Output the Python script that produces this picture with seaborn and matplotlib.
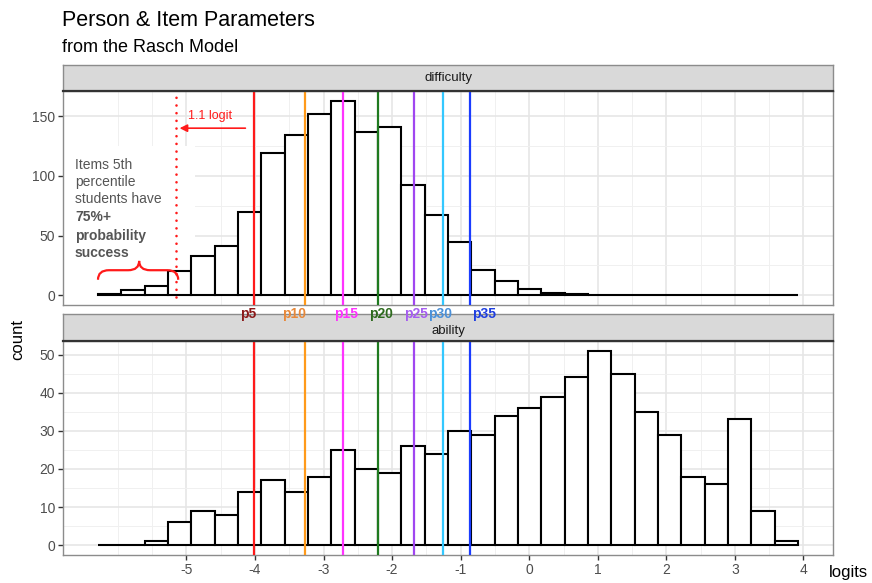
import numpy as np
import pandas as pd
import matplotlib
matplotlib.use("Agg")
import matplotlib.pyplot as plt
from matplotlib.path import Path
from matplotlib.patches import PathPatch, Rectangle
from matplotlib.transforms import blended_transform_factory
import seaborn as sns

# ---------------- data ----------------
bin_min = -6.29
bin_max = 3.92
n_bins = 30

difficulty_counts = [1, 4, 8, 20, 33, 41, 70, 119, 134, 152, 163, 137, 141, 92, 67,
                     45, 21, 12, 5, 2, 1, 0, 0, 0, 0, 0, 0, 0, 0, 0]
ability_counts = [0, 0, 1, 6, 9, 8, 14, 17, 14, 18, 25, 20, 19, 26, 24,
                  30, 29, 34, 36, 39, 44, 51, 45, 35, 29, 18, 16, 33, 9, 1]

panel_names = ["difficulty", "ability"]

percentile_labels = ["p5", "p10", "p15", "p20", "p25", "p30", "p35"]
percentile_values = [-4.02, -3.275, -2.72, -2.21, -1.686, -1.26, -0.862]
line_colors = ["#FF1A1A", "#FF9A1A", "#FF33FF", "#1F7A1F", "#A046F0", "#33C8FF", "#1A3CFF"]
label_colors = ["#8B1A1A", "#E8893A", "#FF33FF", "#2E6B1E", "#A65EF0", "#4A90D9", "#1F3FE0"]
label_offsets = [-0.08, -0.15, 0.05, 0.05, 0.03, -0.04, 0.21]

x_ticks = [-5, -4, -3, -2, -1, 0, 1, 2, 3, 4]
y_ticks_top = [0, 50, 100, 150]
y_ticks_bottom = [0, 10, 20, 30, 40, 50]

dotted_x = -5.15
shift_label = "1.1 logit"
note_lines = ["Items 5th", "percentile", "students have", "75%+", "probability", "success"]
note_bold = [False, False, False, True, True, True]

# ---------------- table ----------------
edges = np.linspace(bin_min, bin_max, n_bins + 1)
centers = (edges[:-1] + edges[1:]) / 2
df = pd.DataFrame({
    "panel": np.repeat(panel_names, n_bins),
    "center": np.tile(centers, 2),
    "count": difficulty_counts + ability_counts,
})

# ---------------- style ----------------
sns.set_style("white")
plt.rcParams["font.family"] = ["Liberation Sans", "DejaVu Sans"]
plt.rcParams["axes.unicode_minus"] = False

W, H = 872, 583
fig = plt.figure(figsize=(W / 100, H / 100), dpi=100)


def fx(px):
    return px / W


def fy(py):
    return 1 - py / H


left, right = 63, 833
ax_top = fig.add_axes([fx(left), fy(305), fx(right - left), (305 - 91) / H])
ax_bot = fig.add_axes([fx(left), fy(555), fx(right - left), (555 - 341) / H])
st_top = fig.add_axes([fx(left), fy(91), fx(right - left), 26 / H])
st_bot = fig.add_axes([fx(left), fy(341), fx(right - left), 27 / H])

rng = bin_max - bin_min
xlim = (bin_min - 0.05 * rng, bin_max + 0.05 * rng)

minor_x = [v for v in np.arange(-6.0, 4.01, 0.5) if v not in x_ticks]

for ax, name, yt in [(ax_top, "difficulty", y_ticks_top), (ax_bot, "ability", y_ticks_bottom)]:
    sub = df[df.panel == name]
    ymax = sub["count"].max()
    if name == "difficulty":
        # white background box behind the annotation
        ax.add_patch(Rectangle((xlim[0], -0.05 * ymax), -4.87 - xlim[0], 125 + 0.05 * ymax,
                               facecolor="white", edgecolor="none", zorder=0.9))
    sns.histplot(data=sub, x="center", weights="count", bins=edges.tolist(), ax=ax,
                 color="white", edgecolor="black", linewidth=1.5, alpha=1, zorder=1)
    ax.set_xlim(*xlim)
    ax.set_ylim(-0.05 * ymax, 1.05 * ymax)
    ax.set_xticks(x_ticks)
    ax.set_xticks(minor_x, minor=True)
    ax.set_yticks(yt)
    step = yt[1] - yt[0]
    ax.set_yticks(np.arange(step / 2, 1.05 * ymax, step), minor=True)
    ax.set_axisbelow(True)
    ax.grid(which="major", color="#E6E6E6", linewidth=1.2)
    ax.grid(which="minor", color="#F0F0F0", linewidth=0.7)
    ax.set_xlabel("")
    ax.set_ylabel("")
    for s in ax.spines.values():
        s.set_color("#8C8C8C")
        s.set_linewidth(1.0)
    ax.tick_params(which="major", length=3.5, width=1.0, color="#333333",
                   labelsize=10, labelcolor="#4D4D4D", pad=2, left=True, bottom=True)
    ax.tick_params(which="minor", length=0)
    for v, c in zip(percentile_values, line_colors):
        ax.axvline(v, color=c, linewidth=1.6, zorder=3)

ax_top.tick_params(axis="x", labelbottom=False, bottom=False)

# strips
for st, name in [(st_top, "difficulty"), (st_bot, "ability")]:
    st.set_facecolor("#D9D9D9")
    st.set_xticks([])
    st.set_yticks([])
    for s in st.spines.values():
        s.set_color("#8C8C8C")
        s.set_linewidth(1.0)
    st.spines["bottom"].set_color("#333333")
    st.spines["bottom"].set_linewidth(1.6)
    st.text(0.5, 0.5, name, transform=st.transAxes, ha="center", va="center",
            fontsize=9.5, color="#1A1A1A")
st_bot.texts[0].set_position((0.5, 0.38))

# percentile labels between panels (figure-level so they sit on top of the strip)
btr = blended_transform_factory(ax_top.transData, fig.transFigure)
for lab, v, c, off in zip(percentile_labels, percentile_values, label_colors, label_offsets):
    fig.text(v + off, fy(314), lab, transform=btr, ha="center", va="center",
             fontsize=10, fontweight="bold", color=c, zorder=5)

# dotted line, arrow and label
ax_top.plot([dotted_x, dotted_x], [-1.7, 175], linestyle=(0, (0.01, 2.9)), color="#FF1A1A",
            linewidth=1.9, clip_on=False, zorder=4, dash_capstyle="round")
ax_top.annotate("", xy=(dotted_x + 0.05, 140), xytext=(-4.14, 140),
                arrowprops=dict(arrowstyle="-|>", color="#FF1A1A", lw=1.2,
                                mutation_scale=11, shrinkA=0, shrinkB=0), zorder=4)
ax_top.text(-4.65, 150, shift_label, ha="center", va="center", fontsize=9,
            color="#FF1A1A", zorder=4)

# note text
note_y = [165, 181.7, 199.3, 217.3, 235.7, 252.7]
for t, b, yy in zip(note_lines, note_bold, note_y):
    fig.text(fx(75), fy(yy), t, ha="left", va="center", fontsize=10,
             fontweight="bold" if b else "normal", color="#555555")

# curly brace
x0, x1, xc = -6.29, -5.12, -5.69
y0, y1, y2 = 13, 21, 28.8
d = 0.16
verts = [(x0, y0), (x0, y1), (x0 + d, y1), (xc - d, y1), (xc, y1), (xc, y2),
         (xc, y1), (xc + d, y1), (x1 - d, y1), (x1, y1), (x1, y0)]
codes = [Path.MOVETO, Path.CURVE3, Path.CURVE3, Path.LINETO, Path.CURVE3, Path.CURVE3,
         Path.CURVE3, Path.CURVE3, Path.LINETO, Path.CURVE3, Path.CURVE3]
ax_top.add_patch(PathPatch(Path(verts, codes), facecolor="none", edgecolor="#FF1A1A",
                           linewidth=1.6, zorder=4))

# titles and axis labels
fig.text(fx(62), fy(25.7), "Person & Item Parameters", ha="left", va="baseline",
         fontsize=15.5, color="black")
fig.text(fx(62), fy(51.7), "from the Rasch Model", ha="left", va="baseline",
         fontsize=13, color="black")
fig.text(fx(18), fy(340), "count", rotation=90, ha="center", va="center",
         fontsize=12, color="black")
fig.text(fx(829), fy(573), "logits", ha="left", va="center", fontsize=12, color="black")

fig.savefig("out.png", dpi=100)
